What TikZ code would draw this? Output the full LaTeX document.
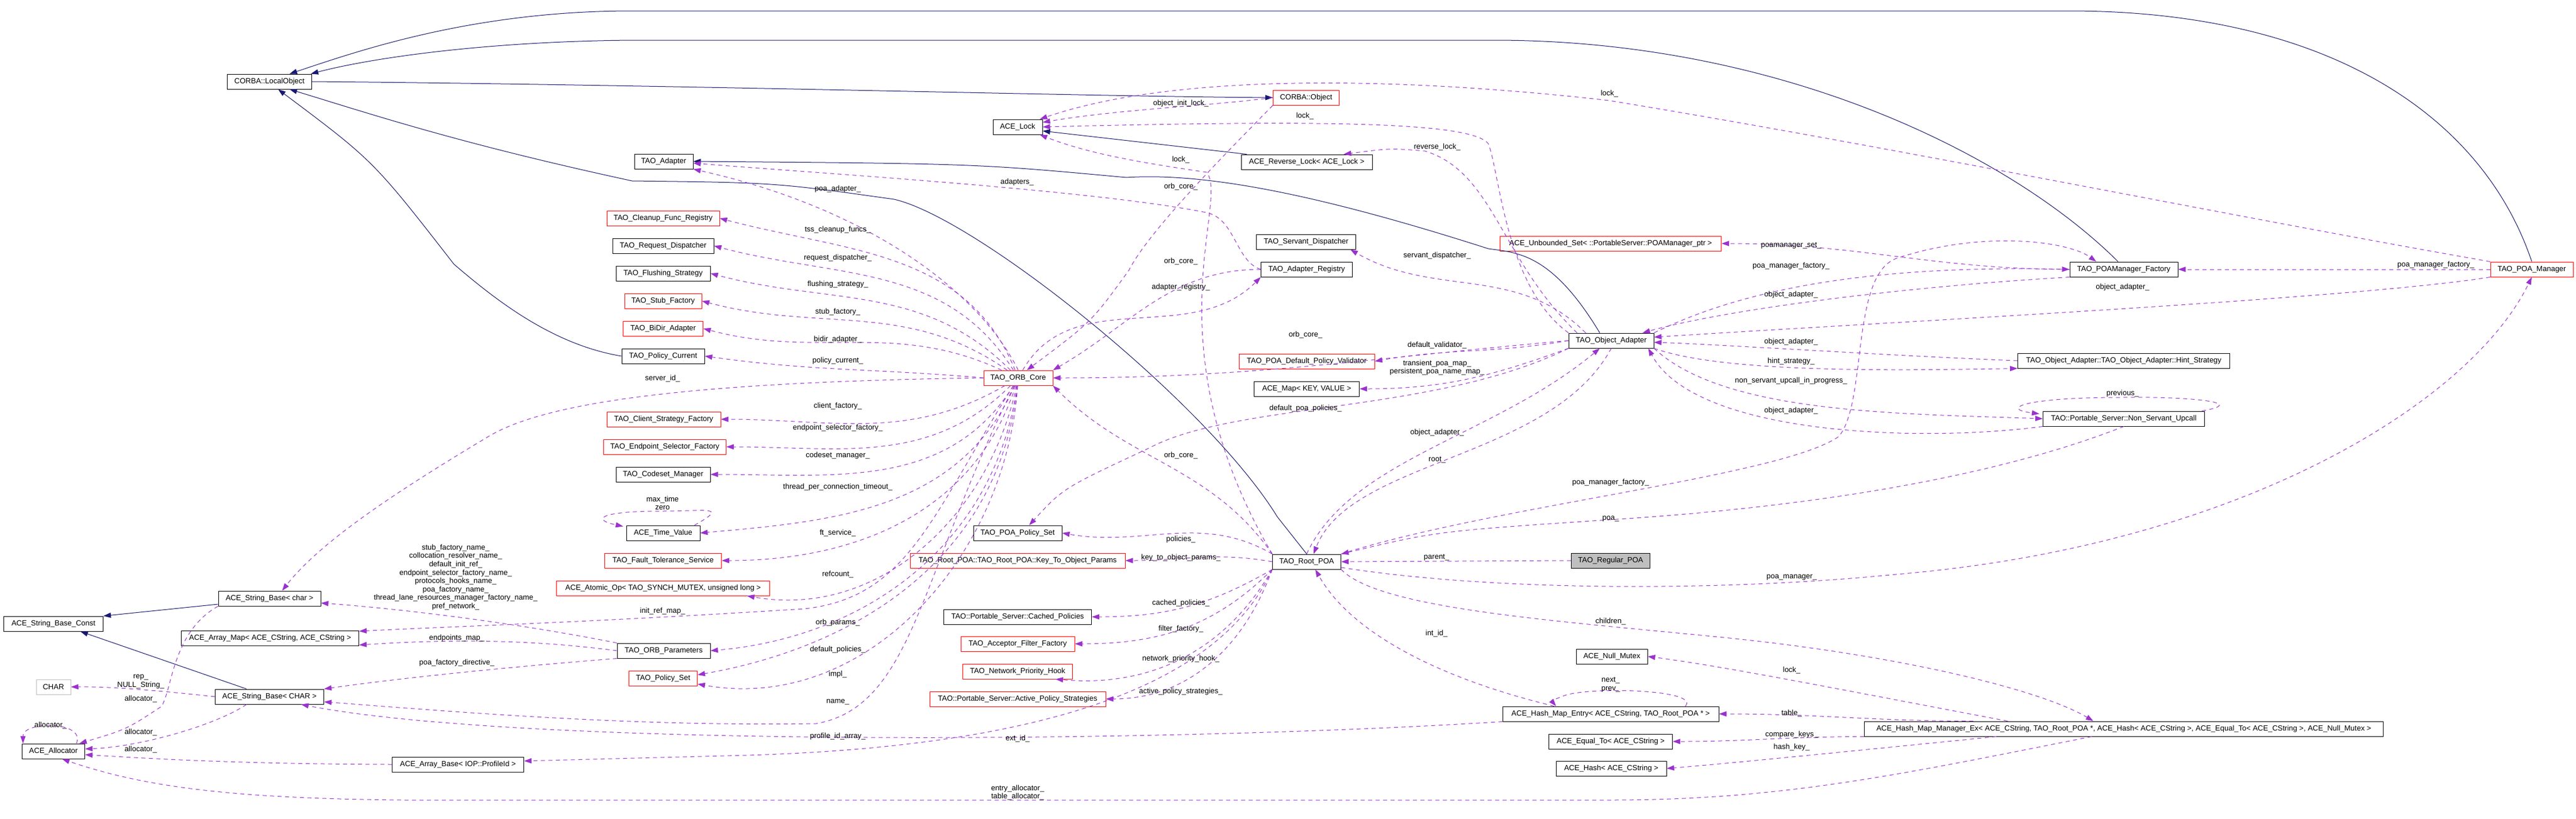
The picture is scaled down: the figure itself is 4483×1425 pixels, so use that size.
\documentclass[tikz,border=0pt]{standalone}
\usepackage{fontspec}
\setmainfont{Liberation Sans}
\usetikzlibrary{arrows.meta,calc}
\definecolor{navy}{RGB}{25,25,112}
\definecolor{purp}{RGB}{154,50,205}
\definecolor{gborder}{RGB}{191,191,191}
\tikzset{
  box/.style={draw=black,line width=1pt,minimum height=26pt,inner sep=2pt,font=\fontsize{13}{14.6}\selectfont,fill=white},
  rbox/.style={box,draw=red},
  lab/.style={inner sep=0pt,font=\fontsize{13}{14.6}\selectfont,align=center},
  inh/.style={draw=navy,line width=1pt,-{Triangle[length=13pt,width=9pt]},fill=none},
  use/.style={draw=purp,line width=1pt,dash pattern=on 7pt off 6pt,-{Triangle[length=13pt,width=9pt]},fill=none},
}
\begin{document}
\begin{tikzpicture}[x=1pt,y=-1pt]
\useasboundingbox[fill=white] (0,0) rectangle (4483,1425);
% ---------- nodes ----------
\node[box,minimum width=147pt] (lo) at (469,142) {CORBA::LocalObject};
\node[rbox,minimum width=115pt] (obj) at (2273,170) {CORBA::Object};
\node[box,minimum width=86pt] (lock) at (1771,221) {ACE\_Lock};
\node[box,minimum width=228pt] (rlock) at (2274,282) {ACE\_Reverse\_Lock< ACE\_Lock >};
\node[box,minimum width=102pt] (adapter) at (1155,281) {TAO\_Adapter};
\node[rbox,minimum width=196pt] (cleanup) at (1154,380) {TAO\_Cleanup\_Func\_Registry};
\node[box,minimum width=176pt] (reqd) at (1154,428) {TAO\_Request\_Dispatcher};
\node[box,minimum width=164pt] (flush) at (1154,476) {TAO\_Flushing\_Strategy};
\node[rbox,minimum width=134pt] (stub) at (1154,524) {TAO\_Stub\_Factory};
\node[rbox,minimum width=139pt] (bidir) at (1154,572) {TAO\_BiDir\_Adapter};
\node[box,minimum width=144pt] (pcur) at (1154,620) {TAO\_Policy\_Current};
\node[rbox,minimum width=120pt] (orb) at (1772,658) {TAO\_ORB\_Core};
\node[rbox,minimum width=198pt] (csf) at (1155,730) {TAO\_Client\_Strategy\_Factory};
\node[rbox,minimum width=213pt] (esf) at (1157,778) {TAO\_Endpoint\_Selector\_Factory};
\node[box,minimum width=164pt] (csm) at (1154,826) {TAO\_Codeset\_Manager};
\node[box,minimum width=128pt] (tv) at (1154,928) {ACE\_Time\_Value};
\node[box,minimum width=154pt] (ppset) at (1771,928) {TAO\_POA\_Policy\_Set};
\node[rbox,minimum width=203pt] (fts) at (1154,976) {TAO\_Fault\_Tolerance\_Service};
\node[rbox,minimum width=371pt] (atomic) at (1154,1024) {ACE\_Atomic\_Op< TAO\_SYNCH\_MUTEX, unsigned long >};
\node[box,minimum width=162pt] (orbp) at (1155,1133) {TAO\_ORB\_Parameters};
\node[rbox,minimum width=119pt] (pset) at (1154,1181) {TAO\_Policy\_Set};
\node[rbox,minimum width=374pt] (ktop) at (1771,976) {TAO\_Root\_POA::TAO\_Root\_POA::Key\_To\_Object\_Params};
\node[box,minimum width=257pt] (cached) at (1771,1074) {TAO::Portable\_Server::Cached\_Policies};
\node[rbox,minimum width=198pt] (aff) at (1771,1121) {TAO\_Acceptor\_Filter\_Factory};
\node[rbox,minimum width=191pt] (nph) at (1771,1169) {TAO\_Network\_Priority\_Hook};
\node[rbox,minimum width=306pt] (aps) at (1771,1217) {TAO::Portable\_Server::Active\_Policy\_Strategies};
\node[box,minimum width=178pt] (sbc) at (469,1042) {ACE\_String\_Base< char >};
\node[box,minimum width=173pt] (sbconst) at (93,1086) {ACE\_String\_Base\_Const};
\node[box,minimum width=309pt] (amap) at (470,1111) {ACE\_Array\_Map< ACE\_CString, ACE\_CString >};
\node[box,draw=gborder,minimum width=60pt] (charn) at (93,1196) {CHAR};
\node[box,minimum width=189pt] (sbC) at (469,1213) {ACE\_String\_Base< CHAR >};
\node[box,minimum width=109pt] (alloc) at (93,1308) {ACE\_Allocator};
\node[box,minimum width=229pt] (abase) at (797,1331) {ACE\_Array\_Base< IOP::ProfileId >};
\node[box,minimum width=173pt] (sdisp) at (2273,421) {TAO\_Servant\_Dispatcher};
\node[box,minimum width=159pt] (areg) at (2274,469) {TAO\_Adapter\_Registry};
\node[rbox,minimum width=385pt] (uset) at (2803,424) {ACE\_Unbounded\_Set< ::PortableServer::POAManager\_ptr >};
\node[box,minimum width=148pt] (oa) at (2804,593) {TAO\_Object\_Adapter};
\node[rbox,minimum width=236pt] (pdpv) at (2274,629) {TAO\_POA\_Default\_Policy\_Validator};
\node[box,minimum width=183pt] (amapkv) at (2274,677) {ACE\_Map< KEY, VALUE >};
\node[box,minimum width=119pt] (rpoa) at (2274,978) {TAO\_Root\_POA};
\node[box,fill=gborder,minimum width=137pt] (regpoa) at (2803,976) {TAO\_Regular\_POA};
\node[box,minimum width=124pt] (nmutex) at (2805,1143) {ACE\_Null\_Mutex};
\node[box,minimum width=376pt] (hme) at (2803,1243) {ACE\_Hash\_Map\_Entry< ACE\_CString, TAO\_Root\_POA * >};
\node[box,minimum width=215pt] (eqto) at (2803,1291) {ACE\_Equal\_To< ACE\_CString >};
\node[box,minimum width=192pt] (hash) at (2804,1338) {ACE\_Hash< ACE\_CString >};
\node[box,minimum width=903pt] (hmm) at (3696,1269) {ACE\_Hash\_Map\_Manager\_Ex< ACE\_CString, TAO\_Root\_POA *, ACE\_Hash< ACE\_CString >, ACE\_Equal\_To< ACE\_CString >, ACE\_Null\_Mutex >};
\node[box,minimum width=188pt] (pmf) at (3696,469) {TAO\_POAManager\_Factory};
\node[rbox,minimum width=144pt] (pm) at (4406,469) {TAO\_POA\_Manager};
\node[box,minimum width=369pt] (hint) at (3696,628) {TAO\_Object\_Adapter::TAO\_Object\_Adapter::Hint\_Strategy};
\node[box,minimum width=281pt] (nsu) at (3696,729) {TAO::Portable\_Server::Non\_Servant\_Upcall};
% ---------- inheritance ----------
\draw[inh] (pm.north) .. controls (4320,200) and (4050,19) .. (3600,19) -- (1100,19) .. controls (820,19) and (620,90) .. ($(lo.north)+(35,0)$);
\draw[inh] ($(pmf.north)+(-10,0)$) .. controls (3500,270) and (3100,70) .. (2600,70) -- (1100,70) .. controls (850,72) and (650,100) .. ($(lo.north east)+(-2,0)$);
\draw[inh] (lo.east) .. controls (1200,148) and (1900,168) .. (obj.west);
\draw[inh] (rpoa.north) -- (2223,900) .. controls (2100,700) and (1700,380) .. (1556,347) .. controls (1350,318) .. (1100,315) .. controls (800,250) and (650,200) .. ($(lo.south)+(35,0)$);
\draw[inh] (pcur.west) .. controls (960,600) and (860,520) .. (790,460) .. controls (650,280) .. ($(lo.south)+(15,0)$);
\draw[inh] ($(oa.north)+(-20,0)$) .. controls (2700,440) and (2640,440) .. (2590,433) .. controls (2300,340) and (2100,300) .. (1960,309) .. controls (1700,285) .. (adapter.east);
\draw[inh] ($(rlock.north west)+(10,0)$) -- ($(lock.east)+(0,7)$);
\draw[inh] ($(sbc.west)+(0,10)$) -- ($(sbconst.north east)+(0,0)$);
\draw[inh] ($(sbC.north)+(-40,0)$) -- ($(sbconst.south)+(47,0)$);
% ---------- usage: ORB core fan ----------
\draw[use] (orb) to[out=112,in=-15] (cleanup.east);
\draw[use] (orb) to[out=122,in=-15] (reqd.east);
\draw[use] (orb) to[out=135,in=-15] (flush.east);
\draw[use] (orb) to[out=145,in=-15] (stub.east);
\draw[use] (orb) to[out=155,in=-15] (bidir.east);
\draw[use] (orb.west) to[out=175,in=-8] (pcur.east);
\draw[use] (orb.west) .. controls (1200,665) and (950,700) .. (850,760) .. controls (700,850) and (560,940) .. ($(sbc.north)+(22,0)$);
\draw[use] (orb) to[out=210,in=0] (csf.east);
\draw[use] (orb) to[out=225,in=0] (esf.east);
\draw[use] (orb) to[out=238,in=0] (csm.east);
\draw[use] (orb) to[out=246,in=5] (tv.east);
\draw[use] (orb) to[out=252,in=0] (fts.east);
\draw[use] (orb) to[out=258,in=-10] ($(atomic.south east)+(-40,0)$);
\draw[use] (orb) .. controls (1620,900) and (1580,1040) .. (1400,1060) .. controls (1000,1085) and (800,1090) .. ($(amap.east)+(0,-12)$);
\draw[use] (orb) to[out=262,in=5] (orbp.east);
\draw[use] (orb) to[out=264,in=10] ($(pset.east)+(0,-6)$);
\draw[use] (orb) to[out=266,in=-10] ($(pset.east)+(0,10)$);
\draw[use] (orb) .. controls (1600,1000) and (1590,1230) .. (1420,1260) .. controls (1100,1265) and (800,1240) .. ($(sbC.east)+(0,9)$);
\draw[use] (orb) to[out=60,in=-135] (areg.south west);
\draw[use] (orb.north) .. controls (1700,500) and (1500,360) .. ($(adapter.south east)+(0,0)$);
% ---------- usage: others ----------
\draw[use] (areg.west) .. controls (2150,455) and (2150,380) .. (2099,370) .. controls (1900,330) and (1400,300) .. ($(adapter.east)+(0,3)$);
\draw[use] (areg.west) to[out=180,in=30] (orb.north east);
\draw[use] (obj.south west) .. controls (2150,250) and (2000,400) .. (1965,470) .. controls (1900,560) .. ($(orb.north)+(15,0)$);
\draw[use] (obj.west) .. controls (2100,185) and (1950,190) .. ($(lock.east)+(0,-8)$);
\draw[use] (pm.north west) .. controls (3900,380) and (3300,257) .. (2800,175) .. controls (2450,135) and (2050,125) .. ($(lock.north east)+(-5,0)$);
\draw[use] (oa.north west) .. controls (2620,500) and (2610,300) .. (2590,250) .. controls (2560,212) and (2300,209) .. (lock.east);
\draw[use] (rpoa.north west) .. controls (2000,600) and (2140,350) .. (2100,300) .. controls (2000,285) and (1900,270) .. ($(lock.south east)+(-5,0)$);
\draw[use] ($(oa.north west)+(15,0)$) .. controls (2610,450) and (2600,300) .. (2480,263) .. controls (2420,258) .. ($(rlock.north east)+(-50,0)$);
\draw[use] ($(oa.north west)+(30,0)$) to[out=135,in=-30] ($(sdisp.south east)+(-10,0)$);
\draw[use] (oa.west) to[out=185,in=0] (orb.east);
\draw[use] (oa.west) to[out=190,in=10] (pdpv.east);
\draw[use] (oa.south west) to[out=200,in=0] (amapkv.east);
\draw[use] (oa.south west) .. controls (2500,720) and (2150,700) .. (2000,780) .. controls (1850,850) .. ($(ppset.north)+(20,0)$);
\draw[use] (rpoa.north west) to[out=150,in=-10] (ppset.east);
\draw[use] (rpoa.west) to[out=170,in=0] (ktop.east);
\draw[use] (rpoa.south west) to[out=210,in=0] (cached.east);
\draw[use] (rpoa.south west) to[out=225,in=0] (aff.east);
\draw[use] (rpoa.south west) to[out=240,in=-5] ($(nph.south east)+(-30,0)$);
\draw[use] (rpoa.south west) to[out=250,in=0] (aps.east);
\draw[use] (rpoa.north west) to[out=125,in=-45] (orb.south east);
\draw[use] (rpoa.south west) .. controls (2120,1200) and (1800,1300) .. (1300,1315) -- ($(abase.east)+(0,-6)$);
\draw[use] (rpoa.north) .. controls (2350,800) and (2600,760) .. ($(oa.south)+(-20,0)$);
\draw[use] (oa.south) .. controls (2700,800) and (2350,800) .. ($(rpoa.north)+(12,0)$);
\draw[use] (oa.north east) .. controls (3000,520) and (3200,460) .. (pmf.west);
\draw[use] (pmf.west) to[out=180,in=0] (uset.east);
\draw[use] (pmf.south west) .. controls (3300,500) and (3000,540) .. ($(oa.north east)+(-20,0)$);
\draw[use] (pm.south west) .. controls (4100,520) and (3300,560) .. ($(oa.east)+(0,-6)$);
\draw[use] (hint.west) .. controls (3300,620) and (3000,600) .. ($(oa.east)+(0,3)$);
\draw[use] (oa.south east) .. controls (3000,650) and (3300,645) .. ($(hint.south west)+(0,0)$);
\draw[use] (oa.south east) .. controls (3000,720) and (3300,720) .. ($(nsu.west)+(0,0)$);
\draw[use] (nsu.south west) .. controls (3350,770) and (2950,760) .. ($(oa.south east)+(-10,0)$);
\draw[use] ($(nsu.north east)+(-5,0)$) .. controls (3920,700) and (3800,690) .. (3690,692) .. controls (3520,692) and (3480,712) .. ($(nsu.north west)+(-6,5)$);
\draw[use] (nsu.south) .. controls (3500,820) and (3200,880) .. (2800,905) .. controls (2500,925) .. (rpoa.north east);
\draw[use] (rpoa.north east) .. controls (2600,880) and (3100,830) .. (3200,760) .. controls (3250,700) and (3220,480) .. (3300,450) .. controls (3450,400) and (3600,420) .. ($(pmf.north)+(-48,0)$);
\draw[use] ($(rpoa.east)+(0,10)$) .. controls (2600,1030) and (3000,1030) .. (3300,1000) .. controls (3900,950) and (4300,700) .. (pm.south);
\draw[use] (pm.west) -- (pmf.east);
\draw[use] (regpoa.west) -- (rpoa.east);
\draw[use] (rpoa.south east) .. controls (2400,1060) and (2700,1080) .. (3000,1110) .. controls (3300,1140) and (3550,1200) .. ($(hmm.north)+(-53,0)$);
\draw[use] ($(hme.north west)+(90,0)$) .. controls (2500,1180) and (2350,1100) .. ($(rpoa.south)+(15,0)$);
\draw[use] ($(hme.north)+(130,0)$) .. controls (2960,1200) and (2760,1195) .. (2720,1212) .. controls (2700,1220) .. ($(hme.north)+(-95,0)$);
\draw[use] ($(hmm.north west)+(190,0)$) to[out=180,in=0] ($(hme.east)+(0,0)$);
\draw[use] ($(hmm.north west)+(250,0)$) .. controls (3200,1200) and (3000,1160) .. (nmutex.east);
\draw[use] (hmm.south west) to[out=180,in=0] (eqto.east);
\draw[use] ($(hmm.south west)+(230,0)$) .. controls (3200,1310) and (3000,1330) .. (hash.east);
\draw[use] ($(hmm.south)+(-56,0)$) .. controls (3300,1350) and (3100,1393) .. (2800,1393) -- (700,1393) .. controls (400,1390) and (250,1370) .. ($(alloc.south east)+(-40,0)$);
\draw[use] (hme.south west) .. controls (2000,1295) and (900,1300) .. ($(sbC.south east)+(-40,0)$);
% left side
\draw[use] (orbp.north west) .. controls (900,1085) and (700,1060) .. ($(sbc.east)+(0,8)$);
\draw[use] (orbp.west) .. controls (900,1110) and (750,1115) .. ($(amap.east)+(0,12)$);
\draw[use] (orbp.south west) .. controls (900,1160) and (700,1180) .. ($(sbC.north east)+(0,0)$);
\draw[use] (sbC.west) .. controls (300,1205) and (200,1195) .. (charn.east);
\draw[use] (sbc.south west) .. controls (300,1100) and (300,1200) .. (281,1230) .. controls (220,1270) .. ($(alloc.north)+(45,0)$);
\draw[use] ($(sbC.south)+(-40,0)$) .. controls (380,1260) and (250,1300) .. ($(alloc.east)+(0,-4)$);
\draw[use] (abase.west) .. controls (400,1330) and (250,1320) .. ($(alloc.east)+(0,6)$);
\draw[use] ($(alloc.north)+(40,0)$) .. controls (150,1255) and (40,1255) .. ($(alloc.north west)+(2,0)$);
\draw[use] ($(tv.north east)+(-10,0)$) .. controls (1270,880) and (1230,890) .. (1150,890) .. controls (1040,890) and (1030,905) .. ($(tv.north west)+(-5,2)$);
% ---------- labels ----------
\node[lab] (l1) at (2055,180) {object\_init\_lock\_};
\node[lab] (l2) at (2055,278) {lock\_};
\node[lab] (l3) at (2271,202) {lock\_};
\node[lab] (l4) at (2801,163) {lock\_};
\node[lab] (l5) at (2501,256) {reverse\_lock\_};
\node[lab] (l6) at (1770,317) {adapters\_};
\node[lab] (l7) at (2055,325) {orb\_core\_};
\node[lab] (l8) at (1458,329) {poa\_adapter\_};
\node[lab] (l9) at (1458,400) {tss\_cleanup\_funcs\_};
\node[lab] (l10) at (1458,449) {request\_dispatcher\_};
\node[lab] (l11) at (2055,455) {orb\_core\_};
\node[lab] (l12) at (1458,495) {flushing\_strategy\_};
\node[lab] (l13) at (2055,500) {adapter\_registry\_};
\node[lab] (l14) at (1458,543) {stub\_factory\_};
\node[lab] (l15) at (1458,591) {bidir\_adapter\_};
\node[lab] (l16) at (1458,628) {policy\_current\_};
\node[lab] (l17) at (1153,659) {server\_id\_};
\node[lab] (l18) at (1458,707) {client\_factory\_};
\node[lab] (l19) at (1458,745) {endpoint\_selector\_factory\_};
\node[lab] (l20) at (1458,793) {codeset\_manager\_};
\node[lab] (l21) at (2055,793) {orb\_core\_};
\node[lab] (l22) at (1458,848) {thread\_per\_connection\_timeout\_};
\node[lab] (l23) at (1153,876) {max\_time\\zero};
\node[lab] (l24) at (1458,928) {ft\_service\_};
\node[lab] (l25) at (2055,939) {policies\_};
\node[lab] (l26) at (1458,1000) {refcount\_};
\node[lab] (l27) at (1153,1064) {init\_ref\_map\_};
\node[lab] (l28) at (1458,1084) {orb\_params\_};
\node[lab] (l29) at (1458,1131) {default\_policies\_};
\node[lab] (l30) at (1458,1174) {impl\_};
\node[lab] (l31) at (1458,1222) {name\_};
\node[lab] (l32) at (1458,1282) {profile\_id\_array\_};
\node[lab] (l33) at (1771,1286) {ext\_id\_};
\node[lab] (l34) at (1771,1380) {entry\_allocator\_\\table\_allocator\_};
\node[lab] (l35) at (2055,971) {key\_to\_object\_params\_};
\node[lab] (l36) at (2055,1050) {cached\_policies\_};
\node[lab] (l37) at (2055,1095) {filter\_factory\_};
\node[lab] (l38) at (2055,1147) {network\_priority\_hook\_};
\node[lab] (l39) at (2055,1204) {active\_policy\_strategies\_};
\node[lab] (l40) at (793,1005) {stub\_factory\_name\_\\collocation\_resolver\_name\_\\default\_init\_ref\_\\endpoint\_selector\_factory\_name\_\\protocols\_hooks\_name\_\\poa\_factory\_name\_\\thread\_lane\_resources\_manager\_factory\_name\_\\pref\_network\_};
\node[lab] (l41) at (795,1111) {endpoints\_map\_};
\node[lab] (l42) at (795,1154) {poa\_factory\_directive\_};
\node[lab] (l43) at (245,1187) {rep\_\\NULL\_String\_};
\node[lab] (l44) at (245,1217) {allocator\_};
\node[lab] (l45) at (88,1263) {allocator\_};
\node[lab] (l46) at (245,1275) {allocator\_};
\node[lab] (l47) at (245,1305) {allocator\_};
\node[lab] (l48) at (2501,445) {servant\_dispatcher\_};
\node[lab] (l49) at (3117,428) {poamanager\_set\_};
\node[lab] (l50) at (3117,463) {poa\_manager\_factory\_};
\node[lab] (l51) at (2272,583) {orb\_core\_};
\node[lab] (l52) at (2501,601) {default\_validator\_};
\node[lab] (l53) at (2501,640) {transient\_poa\_map\_\\persistent\_poa\_name\_map\_};
\node[lab] (l54) at (2272,711) {default\_poa\_policies\_};
\node[lab] (l55) at (2501,753) {object\_adapter\_};
\node[lab] (l56) at (2501,801) {root\_};
\node[lab] (l57) at (2803,840) {poa\_manager\_factory\_};
\node[lab] (l58) at (2803,903) {poa\_};
\node[lab] (l59) at (3117,513) {object\_adapter\_};
\node[lab] (l60) at (3117,595) {object\_adapter\_};
\node[lab] (l61) at (3117,629) {hint\_strategy\_};
\node[lab] (l62) at (3117,663) {non\_servant\_upcall\_in\_progress\_};
\node[lab] (l63) at (3117,715) {object\_adapter\_};
\node[lab] (l64) at (2500,971) {parent\_};
\node[lab] (l65) at (3118,1005) {poa\_manager\_};
\node[lab] (l66) at (2803,1082) {children\_};
\node[lab] (l67) at (2500,1103) {int\_id\_};
\node[lab] (l68) at (3118,1167) {lock\_};
\node[lab] (l69) at (2803,1192) {next\_\\prev\_};
\node[lab] (l70) at (3118,1242) {table\_};
\node[lab] (l71) at (3118,1279) {compare\_keys\_};
\node[lab] (l72) at (3118,1301) {hash\_key\_};
\node[lab] (l73) at (4239,461) {poa\_manager\_factory\_};
\node[lab] (l74) at (3694,500) {object\_adapter\_};
\node[lab] (l75) at (3694,685) {previous\_};
\end{tikzpicture}
\end{document}
